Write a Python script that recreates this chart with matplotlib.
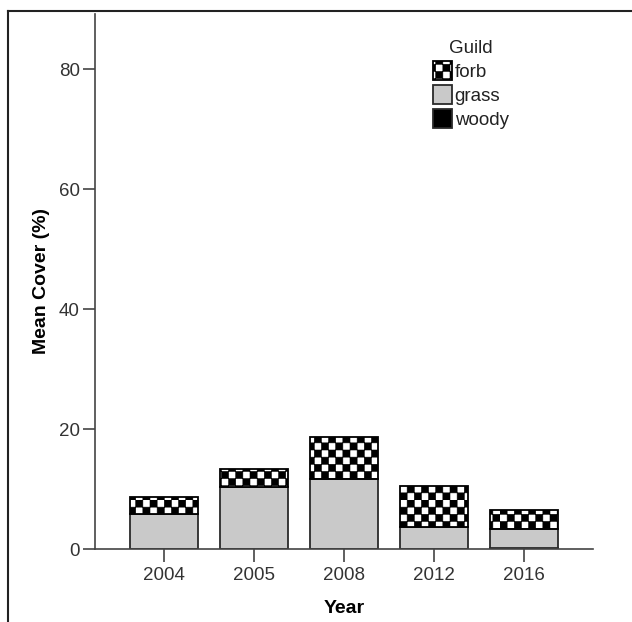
import warnings
warnings.filterwarnings("ignore")
import numpy as np
import matplotlib
matplotlib.use("Agg")
import matplotlib.pyplot as plt
import matplotlib.hatch as mhatch
from matplotlib.path import Path
from matplotlib.lines import Line2D

# ---- data ----
years = ["2004", "2005", "2008", "2012", "2016"]
woody = [0.0, 0.0, 0.0, 0.0, 0.2]
grass = [5.8, 10.4, 11.7, 3.7, 3.2]
forb = [2.9, 3.0, 6.9, 6.8, 3.1]
guilds = ["forb", "grass", "woody"]
yticks = [0, 20, 40, 60, 80]


# ---- custom checkerboard hatch ('c') ----
class CheckerHatch(mhatch.HatchPatternBase):
    def __init__(self, hatch, density):
        self.n = 14 if 'c' in hatch else 0
        self.num_vertices = (self.n * self.n // 2) * 5

    def set_vertices_and_codes(self, vertices, codes):
        n = self.n
        s = 1.0 / n
        k = 0
        for i in range(n):
            for j in range(n):
                if (i + j) % 2 == 0:
                    x0, y0 = i * s, j * s
                    vertices[k:k + 5] = [(x0, y0), (x0 + s, y0), (x0 + s, y0 + s),
                                         (x0, y0 + s), (x0, y0)]
                    codes[k:k + 5] = [Path.MOVETO, Path.LINETO, Path.LINETO,
                                      Path.LINETO, Path.CLOSEPOLY]
                    k += 5


if CheckerHatch not in mhatch._hatch_types:
    mhatch._hatch_types.append(CheckerHatch)

plt.rcParams['font.family'] = ['Liberation Sans', 'DejaVu Sans']
plt.rcParams['hatch.linewidth'] = 0.4

fig = plt.figure(figsize=(6.32, 6.22), dpi=100)
ax = fig.add_axes([95 / 632, 1 - 549 / 622, (593 - 95) / 632, (549 - 14) / 622])

x = np.arange(len(years))
w = 0.756
edge = '#2a2a2a'
lw = 1.3
b_woody = ax.bar(x, woody, w, color='black', edgecolor=edge, linewidth=lw, label='woody')
b_grass = ax.bar(x, grass, w, bottom=woody, color='#c9c9c9', edgecolor=edge,
                 linewidth=lw, label='grass')
bottom2 = np.array(woody) + np.array(grass)
b_forb = ax.bar(x, forb, w, bottom=bottom2, color='white', edgecolor='black',
                linewidth=lw, hatch='c', label='forb')

ax.set_xlim(-0.767, len(years) - 1 + 0.767)
ax.set_ylim(0, 89.2)
ax.set_xticks(x)
ax.set_xticklabels(years)
ax.set_yticks(yticks)

for s in ['top', 'right']:
    ax.spines[s].set_visible(False)
for s in ['left', 'bottom']:
    ax.spines[s].set_color('#444444')
    ax.spines[s].set_linewidth(1.2)
ax.tick_params(axis='both', length=9, width=1.2, color='#444444',
               labelsize=13.5, labelcolor='#333333', pad=2)
ax.tick_params(axis='x', pad=4)

ax.set_xlabel('Year', fontsize=14, fontweight='bold', labelpad=11.5)
ax.set_ylabel('Mean Cover (%)', fontsize=14, fontweight='bold', labelpad=6)

handles = [b_forb[0], b_grass[0], b_woody[0]]
leg = ax.legend(handles, guilds, title='Guild', frameon=False, fontsize=13.5,
                title_fontsize=13.5, loc='upper left',
                bbox_to_anchor=(0.664, 0.966), handlelength=1.0, handleheight=1.2,
                handletextpad=0.15, labelspacing=0.22, borderaxespad=0)
leg.get_title().set_color('#222222')
for t in leg.get_texts():
    t.set_color('#222222')

# figure border (top and left, as in reference)
fig.add_artist(Line2D([8 / 632, 1.0], [1 - 11 / 622, 1 - 11 / 622],
                      transform=fig.transFigure, color='#222222', linewidth=1.5))
fig.add_artist(Line2D([8 / 632, 8 / 632], [0.0, 1 - 11 / 622],
                      transform=fig.transFigure, color='#222222', linewidth=1.5))

fig.savefig('out.png', dpi=100)
